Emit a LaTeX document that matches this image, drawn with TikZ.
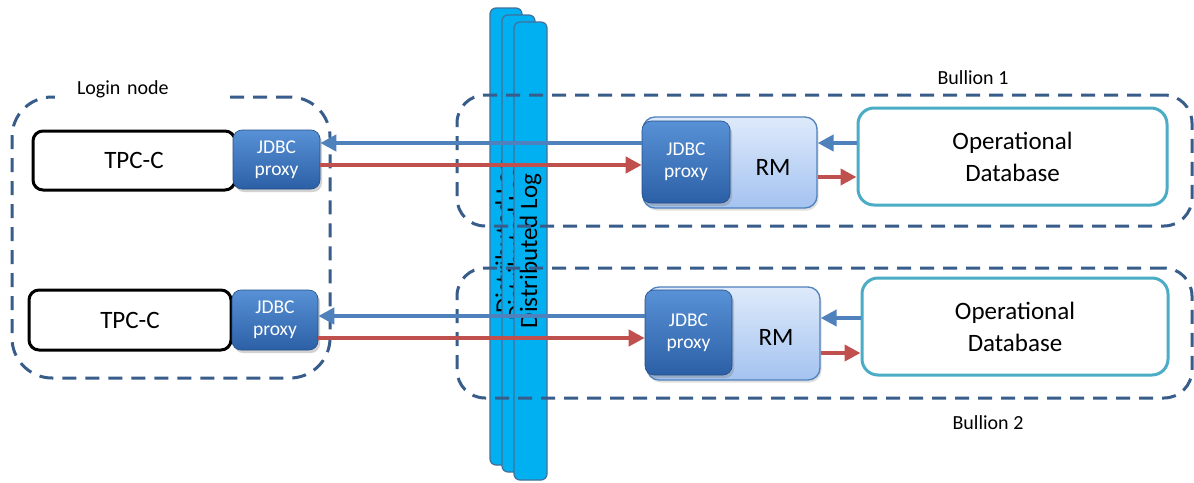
\documentclass[tikz,border=0pt]{standalone}
\usepackage{fontspec}
\setmainfont{Carlito}
\usetikzlibrary{arrows.meta,shadows}
\definecolor{dashc}{RGB}{56,93,138}
\definecolor{arrblue}{RGB}{79,129,189}
\definecolor{arrred}{RGB}{192,80,77}
\definecolor{logfill}{RGB}{0,176,240}
\definecolor{logdraw}{RGB}{65,113,156}
\definecolor{dbdraw}{RGB}{75,172,198}
\definecolor{pxtop}{RGB}{88,145,214}
\definecolor{pxbot}{RGB}{44,96,166}
\definecolor{rmtop}{RGB}{222,234,251}
\definecolor{rmbot}{RGB}{164,195,240}
\tikzset{
  logbar/.style={draw=logdraw,line width=1.2pt,fill=logfill,rounded corners=6pt,inner sep=0pt,
    font=\fontsize{25}{30}\selectfont,text=black},
  dashbox/.style={draw=dashc,line width=3pt,dash pattern=on 14pt off 9pt,inner sep=0pt},
  boxlabel/.style={font=\fontsize{20}{24}\selectfont,text=black},
  tpcbox/.style={draw=black,line width=3pt,fill=white,rounded corners=10pt,inner sep=0pt,
    font=\fontsize{25}{30}\selectfont},
  proxybox/.style={rounded corners=9pt,top color=pxtop,bottom color=pxbot,draw=pxbot!80!black,line width=0.6pt,
    inner sep=0pt,text=white,align=center,font=\fontsize{19.5}{22}\selectfont,
    drop shadow={shadow xshift=2pt,shadow yshift=-3pt,opacity=0.35}},
  rmbox/.style={rounded corners=12pt,top color=rmtop,bottom color=rmbot,draw=arrblue,line width=1.3pt,inner sep=0pt,
    drop shadow={shadow xshift=1.5pt,shadow yshift=-2.5pt,opacity=0.25}},
  rmtext/.style={font=\fontsize{25}{30}\selectfont,text=black},
  dbbox/.style={draw=dbdraw,line width=3pt,fill=white,rounded corners=16pt,inner sep=0pt,align=center,
    font=\fontsize{25}{32}\selectfont},
  bluearr/.style={draw=arrblue,line width=4pt,-{Triangle[length=16pt,width=16pt]}},
  redarr/.style={draw=arrred,line width=4pt,-{Triangle[length=16pt,width=16pt]}}
}
\begin{document}
\begin{tikzpicture}[x=1pt,y=-1pt]
\useasboundingbox[fill=white] (0,0) rectangle (1194,482);
% distributed log bars
\node[logbar,minimum width=32pt,minimum height=457pt] (log1) at (506,236.5) {\rotatebox{90}{Distributed Log}};
\node[logbar,minimum width=33pt,minimum height=457pt] (log2) at (518.5,243.5) {\rotatebox{90}{Distributed Log}};
\node[logbar,minimum width=33pt,minimum height=458pt] (log3) at (530.5,251) {\rotatebox{90}{Distributed Log}};
% dashed containers
\node[dashbox,rounded corners=40pt,minimum width=318pt,minimum height=281pt] (login) at (171,237.5) {};
\node[dashbox,rounded corners=28pt,minimum width=735pt,minimum height=131pt] (b1) at (824.5,160.5) {};
\node[dashbox,rounded corners=28pt,minimum width=735pt,minimum height=130pt] (b2) at (824.5,333) {};
\node[boxlabel,fill=white,text width=123pt,align=left,inner xsep=22pt,inner ysep=2pt] (loginlbl) at (138.5,89) {Login node};
\node[boxlabel] (b1lbl) at (973,78) {Bullion 1};
\node[boxlabel] (b2lbl) at (988,423) {Bullion 2};
% left side
\node[tpcbox,minimum width=202pt,minimum height=59pt] (tpc1) at (134,160.5) {TPC-C};
\node[proxybox,minimum width=87pt,minimum height=59pt] (jdbc1) at (276.5,159.5) {JDBC\\proxy};
\node[tpcbox,minimum width=202pt,minimum height=60pt] (tpc2) at (130,320) {TPC-C};
\node[proxybox,minimum width=86pt,minimum height=60pt] (jdbc2) at (275,320) {JDBC\\proxy};
% RM boxes
\node[rmbox,minimum width=174pt,minimum height=91pt] (rm1) at (730,162.5) {};
\node[proxybox,minimum width=88pt,minimum height=82pt] (pxy1) at (686,162) {JDBC\\proxy};
\node[rmtext] (rm1t) at (773,167) {RM};
\node[rmbox,minimum width=173pt,minimum height=93pt] (rm2) at (733.5,333.5) {};
\node[proxybox,minimum width=87pt,minimum height=85pt] (pxy2) at (688.5,332.5) {JDBC\\proxy};
\node[rmtext] (rm2t) at (776,337) {RM};
% databases
\node[dbbox,minimum width=309pt,minimum height=97pt] (db1) at (1012.5,156.5) {Operational\\Database};
\node[dbbox,minimum width=306pt,minimum height=97pt] (db2) at (1015,326.5) {Operational\\Database};
% arrows
\draw[bluearr] (pxy1.west |- 0,143) -- (jdbc1.east |- 0,143);
\draw[redarr] (jdbc1.east |- 0,165) -- (pxy1.west |- 0,165);
\draw[bluearr] (db1.west |- 0,143) -- (rm1.east |- 0,143);
\draw[redarr] (rm1.east |- 0,177) -- (db1.west |- 0,177);
\draw[bluearr] (pxy2.west |- 0,316) -- (jdbc2.east |- 0,316);
\draw[redarr] (jdbc2.east |- 0,338) -- (pxy2.west |- 0,338);
\draw[bluearr] (db2.west |- 0,318) -- (rm2.east |- 0,318);
\draw[redarr] (rm2.east |- 0,353) -- (db2.west |- 0,353);
\end{tikzpicture}
\end{document}
